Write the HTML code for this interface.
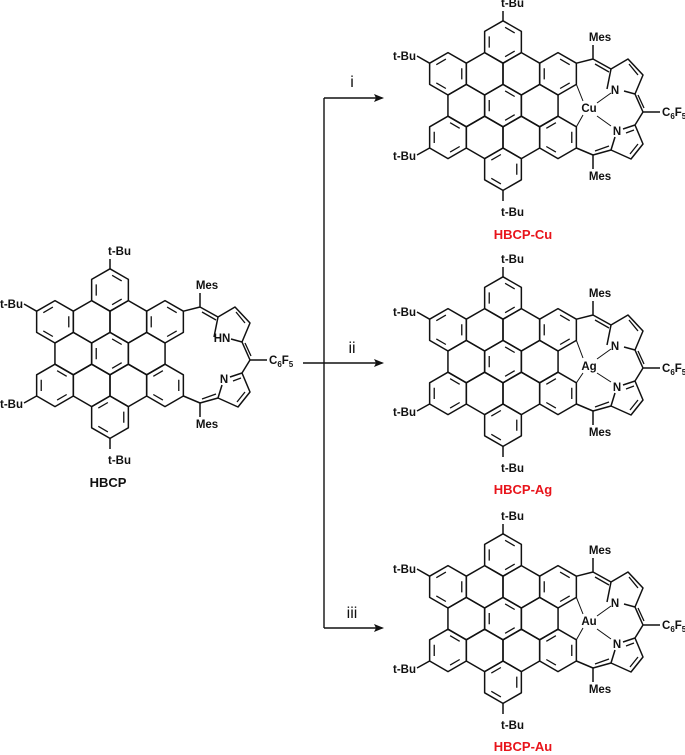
<!DOCTYPE html>
<html><head><meta charset="utf-8"><style>
html,body{margin:0;padding:0;background:#fff;}
svg{display:block;}
text{font-family:"Liberation Sans",Arial,sans-serif;font-weight:bold;font-size:11.5px;fill:#111;}
</style></head><body>
<svg width="685" height="755" viewBox="0 0 685 755" xmlns="http://www.w3.org/2000/svg">
<defs>
<g id="h"><polygon points="0,-21.2 18.36,-10.6 18.36,10.6 0,21.2 -18.36,10.6 -18.36,-10.6" fill="none" stroke="#111" stroke-width="1.5" stroke-linejoin="round"/></g>
<g id="hd"><use href="#h"/><path d="M2.1,-14.7 L11.7,-9.1 M11.7,9.1 L2.1,14.7 M-13.77,5.6 L-13.77,-5.6" stroke="#111" stroke-width="1.3" fill="none"/></g>
<g id="hd2"><use href="#h"/><path d="M-2.1,-14.7 L-11.7,-9.1 M-11.7,9.1 L-2.1,14.7 M13.77,5.6 L13.77,-5.6" stroke="#111" stroke-width="1.3" fill="none"/></g>
<g id="core">
 <use href="#hd" x="0" y="0"/>
 <use href="#hd2" x="-55" y="31.8"/>
 <use href="#h" x="-18.35" y="31.8"/>
 <use href="#h" x="18.35" y="31.8"/>
 <use href="#hd" x="55" y="31.8"/>
 <use href="#h" x="-36.7" y="63.6"/>
 <use href="#hd" x="0" y="63.6"/>
 <use href="#h" x="36.7" y="63.6"/>
 <use href="#hd" x="-55" y="95.4"/>
 <use href="#h" x="-18.35" y="95.4"/>
 <use href="#h" x="18.35" y="95.4"/>
 <use href="#hd2" x="55" y="95.4"/>
 <use href="#hd2" x="0" y="127.2"/>
 <path d="M0,-21.2 L0,-31 M-73.4,21.2 L-86,14 M-73.4,106 L-86,113 M0,148.4 L0,159" stroke="#111" stroke-width="1.5"/>
 <text x="-2" y="-35">t-Bu</text>
 <text x="-87" y="18" text-anchor="end">t-Bu</text>
 <text x="-87" y="118" text-anchor="end">t-Bu</text>
 <text x="-2" y="174">t-Bu</text>
 <path d="M73.4,21.2 L90,17 L108,27 L125,17 L140,33 L132,52 L121,49 M104,47 L108,27 M132,52 L140,70 L157,70 M140,70 L132,83 L140,102 L128,117 L108,108 L90,113 L73.4,106 M108,108 L112,95 M120,87 L132,83 M90,17 L90,3 M90,113 L90,127" stroke="#111" stroke-width="1.5" fill="none" stroke-linejoin="round"/>
 <path d="M92,22 L106,30 M126,22 L135,33 M135,53 L141,66 M123,91 L131,88 M127,112 L135,102 M92,109 L106,104" stroke="#111" stroke-width="1.3" fill="none"/>
 <text x="97" y="-1" text-anchor="middle">Mes</text>
 <text x="97" y="138" text-anchor="middle">Mes</text>
 <text x="159" y="74">C<tspan style="font-size:8px" dy="3">6</tspan><tspan dy="-3">F</tspan><tspan style="font-size:8px" dy="3">5</tspan></text>
</g>
</defs>

<g transform="translate(110,290)">
 <use href="#core"/>
 <text x="112" y="52" text-anchor="middle">HN</text>
 <text x="114" y="93" text-anchor="middle">N</text>
</g>
<text x="108" y="487" text-anchor="middle" style="font-size:13px">HBCP</text>

<g transform="translate(503,42)">
 <use href="#core"/>
 <text x="112" y="52" text-anchor="middle">N</text>
 <text x="114" y="93" text-anchor="middle">N</text>
 <text x="86" y="70" text-anchor="middle">Cu</text>
 <path d="M73.4,42.4 L80,59 M73.4,84.8 L80,73 M108,51 L94,61 M108,84 L94,74" stroke="#111" stroke-width="1"/>
</g>
<text x="523" y="239" text-anchor="middle" style="font-size:13px;fill:#e8141b">HBCP-Cu</text>

<g transform="translate(503,298)">
 <use href="#core"/>
 <text x="112" y="52" text-anchor="middle">N</text>
 <text x="114" y="93" text-anchor="middle">N</text>
 <text x="86" y="72" text-anchor="middle">Ag</text>
 <path d="M73.4,42.4 L80,60 M73.4,84.8 L80,75 M108,51 L94,61 M108,84 L94,75" stroke="#111" stroke-width="1"/>
</g>
<text x="523" y="494" text-anchor="middle" style="font-size:13px;fill:#e8141b">HBCP-Ag</text>

<g transform="translate(503,555)">
 <use href="#core"/>
 <text x="112" y="52" text-anchor="middle">N</text>
 <text x="114" y="93" text-anchor="middle">N</text>
 <text x="86" y="70" text-anchor="middle">Au</text>
 <path d="M73.4,42.4 L80,59 M73.4,84.8 L80,73 M108,51 L94,61 M108,84 L94,74" stroke="#111" stroke-width="1"/>
</g>
<text x="523" y="751" text-anchor="middle" style="font-size:13px;fill:#e8141b">HBCP-Au</text>

<path d="M324,98 L324,628 M303,363 L324,363 M324,98 L376,98 M324,363 L376,363 M324,628 L376,628" stroke="#111" stroke-width="1.4" fill="none"/>
<path d="M384,98 L374,94 L376,98 L374,102 Z M384,363 L374,359 L376,363 L374,367 Z M384,628 L374,624 L376,628 L374,632 Z" fill="#111"/>
<text x="352" y="87" text-anchor="middle" style="font-size:16px;font-weight:normal">i</text>
<text x="352" y="353" text-anchor="middle" style="font-size:16px;font-weight:normal">ii</text>
<text x="352" y="618" text-anchor="middle" style="font-size:16px;font-weight:normal">iii</text>
</svg>
</body></html>
